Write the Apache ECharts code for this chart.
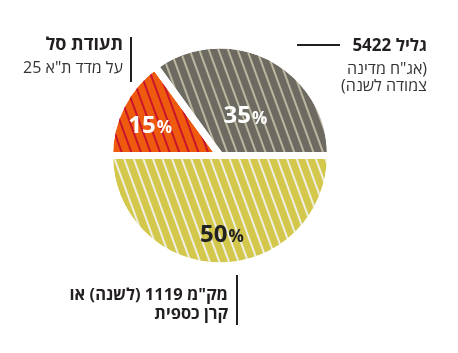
<!DOCTYPE html>
<html>
<head>
<meta charset="utf-8">
<script src="https://cdn.jsdelivr.net/npm/echarts@6/dist/echarts.min.js"></script>
<style>
  html, body { margin: 0; padding: 0; background: #fff; }
  #pie1 { width: 458px; height: 353px; }
</style>
</head>
<body>
<div id="pie1" dir="rtl"></div>
<script type="text/javascript">
  // slices, clockwise from 9 o'clock
  const names = ['תעודת סל', 'גליל 5422', 'מק"מ 1119']
  const values = [15, 35, 50]
  const baseColors = ['#ee5a0e', '#6d6b61', '#d3c84b']
  const stripeColors = ['#c8142c', '#bab6a0', '#eeeee2']
  const labelColors = ['#ffffff', '#ffffff', '#222222']

  // annotation texts
  const noteLeft = ['תעודת סל', 'על מדד ת"א 25']
  const noteRight = ['גליל 5422', '(אג"ח מדינה', 'צמודה לשנה)']
  const noteBottom = ['מק"מ 1119 (לשנה) או', 'קרן כספית']

  const labelOffsets = [[-18, -3], [-1, 13], [2, 21]]
  const font = '"Open Sans", "Liberation Sans", "DejaVu Sans", sans-serif'

  let pie1 = echarts.init(document.getElementById('pie1'))

  let pieData = values.map(function (v, i) {
    return {
      name: names[i],
      value: v,
      itemStyle: {
        color: baseColors[i],
        decal: {
          symbol: 'rect',
          symbolSize: 1,
          color: stripeColors[i],
          dashArrayX: [1, 0],
          dashArrayY: [2, 7],
          rotation: 1.22
        }
      },
      label: {
        offset: labelOffsets[i],
        rich: {
          v: { fontSize: 24, fontWeight: 'bold', color: labelColors[i], fontFamily: font },
          p: { fontSize: 17, fontWeight: 'bold', color: labelColors[i], fontFamily: font, padding: [5, 0, 0, 1] }
        }
      }
    }
  })

  function textEl(str, x, y, bold, size, color) {
    return {
      type: 'text',
      x: x,
      y: y,
      style: {
        text: str,
        fill: color,
        font: (bold ? 'bold ' : '') + size + 'px ' + font,
        textAlign: 'right',
        textVerticalAlign: 'middle'
      }
    }
  }

  let graphics = [
    textEl(noteLeft[0], 123, 45, true, 18, '#231f20'),
    textEl(noteLeft[1], 123, 68, false, 16, '#333'),
    { type: 'line', shape: { x1: 131, y1: 37, x2: 131, y2: 82 }, style: { stroke: '#231f20', lineWidth: 2 } },
    textEl(noteRight[0], 427, 46, true, 17, '#231f20'),
    textEl(noteRight[1], 427, 69, false, 16, '#333'),
    textEl(noteRight[2], 427, 86, false, 16, '#333'),
    { type: 'line', shape: { x1: 297, y1: 45, x2: 340, y2: 45 }, style: { stroke: '#231f20', lineWidth: 2 } },
    textEl(noteBottom[0], 228, 295, true, 16.5, '#231f20'),
    textEl(noteBottom[1], 228, 314, true, 16.5, '#231f20'),
    { type: 'line', shape: { x1: 237, y1: 275, x2: 237, y2: 325 }, style: { stroke: '#231f20', lineWidth: 2 } }
  ]

  pie1.setOption({
    animation: false,
    graphic: graphics,
    series: [{
      type: 'pie',
      center: [220, 155.5],
      radius: 110.5,
      startAngle: 180,
      clockwise: true,
      itemStyle: {
        borderColor: '#ffffff',
        borderWidth: 7
      },
      label: {
        show: true,
        position: 'inside',
        formatter: '{v|{c}}{p|%}'
      },
      labelLine: { show: false },
      emphasis: { disabled: true },
      data: pieData
    }]
  })
</script>
</body>
</html>
